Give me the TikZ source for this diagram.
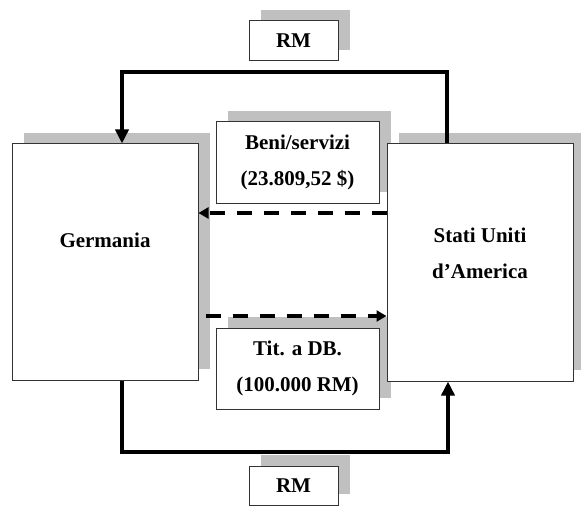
\documentclass[tikz,border=0pt]{standalone}
\usepackage{fontspec}
\setmainfont{Liberation Serif}
\usetikzlibrary{arrows.meta,shadows,calc}
\definecolor{shadowgrey}{HTML}{C0C0C0}
\definecolor{edgegrey}{HTML}{333333}
\tikzset{
  box/.style={draw=edgegrey, line width=1pt, fill=white, inner sep=0pt,
    general shadow={fill=shadowgrey, shadow xshift=12pt, shadow yshift=11pt}},
  boxtext/.style={font=\fontsize{21}{36}\selectfont\bfseries, align=center, inner sep=0pt},
  flow/.style={line width=4.5pt, -{Triangle[width=13pt,length=14pt]}},
  dashflow/.style={line width=4pt, dash pattern=on 15pt off 12pt,
    -{Triangle[width=11pt,length=10pt]}}
}
\begin{document}
\begin{tikzpicture}[x=1pt,y=-1pt]
  \useasboundingbox (0,0) rectangle (581,508);

  % exchanged items
  \node[box, boxtext, minimum width=89pt, minimum height=40pt] (rmTop) at (293.5,41) {RM};
  \node[box, boxtext, minimum width=163pt, minimum height=81pt] (beni) at (297.5,162.5)
    {Beni/servizi\\(23.809,52 \$)};
  \node[box, boxtext, minimum width=163pt, minimum height=81pt] (tit) at (297.5,368.5)
    {Tit. a DB.\\(100.000 RM)};
  \node[box, boxtext, minimum width=89pt, minimum height=39pt] (rmBot) at (293.5,485.5) {RM};

  % the two countries
  \node[box, minimum width=186pt, minimum height=236pt] (ger) at (105,262) {};
  \node[box, minimum width=186pt, minimum height=237pt] (usa) at (480,262.5) {};
  \node[boxtext] (gerText) at (105,240) {Germania};
  \node[boxtext] (usaText) at (480,253) {Stati Uniti\\d'America};

  % corner points of the money loops
  \coordinate (topRight) at (447,72);
  \coordinate (topLeft) at (122,72);
  \coordinate (botLeft) at (122,452);
  \coordinate (botRight) at (448,452);
  \coordinate (goodsLevel) at (300,213);
  \coordinate (bondsLevel) at (300,316);

  % RM paid from the USA to Germany (top) and back (bottom)
  \draw[flow] (usa.north -| topRight) -- (topRight) -- (topLeft) -- (ger.north -| topLeft);
  \draw[flow] (ger.south -| botLeft) -- (botLeft) -- (botRight) -- (usa.south -| botRight);

  % goods and bonds
  \draw[dashflow] (usa.west |- goodsLevel) -- (ger.east |- goodsLevel);
  \draw[dashflow] ($(ger.east |- bondsLevel)+(7,0)$) -- (usa.west |- bondsLevel);
\end{tikzpicture}
\end{document}
